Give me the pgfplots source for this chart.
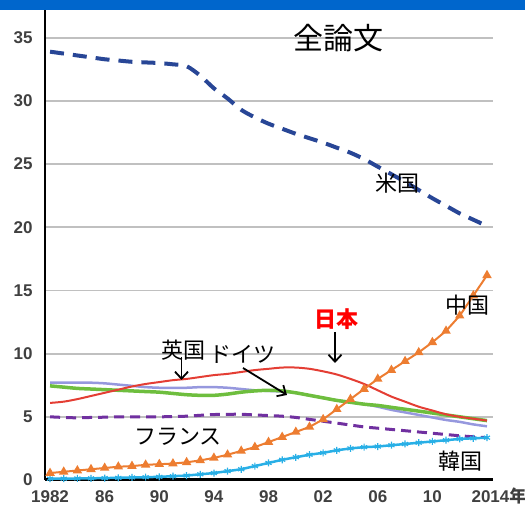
\documentclass[border=0pt]{standalone}
\usepackage{pgfplots}
\pgfplotsset{compat=1.18}
\usepackage{pgfplotstable}
\usepackage{fontspec}
\setmainfont{Liberation Sans}
\newfontfamily\cjk{Noto Sans CJK JP}
\usetikzlibrary{arrows.meta}

\definecolor{usblue}{RGB}{40,70,150}
\definecolor{cnorange}{RGB}{237,125,49}
\definecolor{jpred}{RGB}{228,62,52}
\definecolor{uklav}{RGB}{150,152,222}
\definecolor{degreen}{RGB}{110,190,62}
\definecolor{frpurple}{RGB}{112,48,160}
\definecolor{krblue}{RGB}{40,175,230}
\definecolor{band}{RGB}{0,102,204}
\definecolor{ticktext}{RGB}{64,64,64}
\definecolor{gridgray}{RGB}{192,192,192}

% share of all papers (%)
\pgfplotstableread{
year us    cn   jp   uk   de   fr   kr
1982 33.9  0.55 6.1  7.7  7.45 5.0  0.1
1983 33.75 0.65 6.2  7.7  7.35 4.95 0.1
1984 33.6  0.75 6.4  7.7  7.25 4.92 0.12
1985 33.45 0.85 6.65 7.7  7.2  4.95 0.13
1986 33.3  0.95 6.9  7.65 7.15 4.97 0.15
1987 33.2  1.05 7.15 7.55 7.1  5.0  0.17
1988 33.1  1.1  7.4  7.45 7.05 5.0  0.2
1989 33.05 1.2  7.6  7.35 7.0  5.0  0.22
1990 33.0  1.25 7.75 7.3  6.95 5.0  0.25
1991 32.9  1.3  7.9  7.3  6.85 5.02 0.3
1992 32.75 1.4  8.0  7.3  6.75 5.05 0.35
1993 32.0  1.55 8.15 7.35 6.7  5.12 0.45
1994 31.0  1.75 8.3  7.35 6.7  5.18 0.55
1995 30.2  2.0  8.4  7.3  6.8  5.2  0.7
1996 29.3  2.3  8.55 7.2  6.95 5.2  0.85
1997 28.7  2.6  8.7  7.1  7.05 5.15 1.1
1998 28.2  3.0  8.8  7.05 7.1  5.1  1.35
1999 27.8  3.4  8.9  7.0  7.05 5.05 1.6
2000 27.4  3.8  8.9  6.9  6.9  4.95 1.8
2001 27.05 4.2  8.8  6.7  6.7  4.8  2.0
2002 26.7  4.8  8.6  6.5  6.5  4.65 2.15
2003 26.3  5.6  8.35 6.3  6.3  4.5  2.35
2004 25.9  6.4  8.0  6.15 6.15 4.35 2.5
2005 25.4  7.2  7.6  6.0  6.0  4.2  2.6
2006 24.8  8.0  7.1  5.8  5.9  4.1  2.65
2007 24.2  8.7  6.6  5.55 5.75 4.0  2.75
2008 23.6  9.4  6.2  5.35 5.6  3.9  2.85
2009 22.95 10.1 5.8  5.15 5.45 3.8  2.95
2010 22.3  10.9 5.5  4.95 5.3  3.7  3.05
2011 21.7  11.8 5.2  4.75 5.15 3.6  3.15
2012 21.1  13.0 5.0  4.6  5.0  3.5  3.25
2013 20.6  14.6 4.85 4.4  4.85 3.42 3.3
2014 20.1  16.2 4.7  4.25 4.7  3.35 3.35
}\shares

\begin{document}
\begin{tikzpicture}[x=1pt,y=1pt]
\path[use as bounding box] (0,0) rectangle (525,510);
\fill[band] (0,500) rectangle (525,510);
\begin{axis}[
    at={(45pt,30pt)}, anchor=south west,
    scale only axis,
    width=448pt, height=470pt,
    xmin=1981.63, xmax=2014.44,
    ymin=0, ymax=37.2,
    axis lines*=left,
    axis line style={-},
    x axis line style={line width=3pt, black},
    y axis line style={line width=2.5pt, black},
    ymajorgrids=true,
    grid style={gridgray, line width=1.8pt},
    major tick length=0pt,
    ytick={0,5,...,35},
    xtick={1982,1986,1990,1994,1998,2002,2006,2010},
    xticklabels={1982,86,90,94,98,02,06,10},
    extra x ticks={2014},
    extra x tick labels={2014\cjk{\bfseries 年}},
    extra x tick style={grid=none, xticklabel style={xshift=12pt}},
    tick label style={font=\bfseries\fontsize{17}{17}\selectfont, text=ticktext},
    /pgf/number format/assume math mode=true,
    yticklabel style={xshift=-9pt},
    xticklabel style={anchor=north, text height=12.5pt, text depth=0pt, yshift=-6pt},
    clip=false,
]
\addplot[uklav, line width=2.5pt, smooth] table[x=year, y=uk] {\shares};
\addplot[degreen, line width=3.5pt, smooth] table[x=year, y=de] {\shares};
\addplot[frpurple, line width=3pt, dash pattern=on 10pt off 6pt, smooth] table[x=year, y=fr] {\shares};
\addplot[jpred, line width=2pt, smooth] table[x=year, y=jp] {\shares};
\addplot[krblue, line width=2.5pt, mark=asterisk, mark size=3.5pt, mark options={line width=1.2pt}] table[x=year, y=kr] {\shares};
\addplot[cnorange, line width=2pt, mark=triangle*, mark size=3.5pt] table[x=year, y=cn] {\shares};
\addplot[usblue, line width=4pt, dash pattern=on 14pt off 9pt, smooth] table[x=year, y=us] {\shares};
\end{axis}
\begin{scope}[every node/.style={inner sep=0pt}]
\node at (338,472) {\cjk\fontsize{30}{30}\selectfont 全論文};
\node at (397,327) {\cjk\fontsize{22}{22}\selectfont 米国};
\node at (467,205) {\cjk\fontsize{22}{22}\selectfont 中国};
\node[text=red] at (336,191) {\cjk\bfseries\fontsize{22}{22}\selectfont 日本};
\node at (183,160) {\cjk\fontsize{22}{22}\selectfont 英国};
\node at (242,156) {\cjk\fontsize{22}{22}\selectfont ドイツ};
\node at (178,73) {\cjk\fontsize{22}{22}\selectfont フランス};
\node at (460,49) {\cjk\fontsize{22}{22}\selectfont 韓国};
\end{scope}
\begin{scope}[line width=1.8pt, -{Straight Barb[length=7pt,width=13pt]}]
\draw (335,178) -- (335,147);
\draw (181.5,153) -- (181.5,130);
\draw (243,142) -- (287,115);
\end{scope}
\end{tikzpicture}
\end{document}
